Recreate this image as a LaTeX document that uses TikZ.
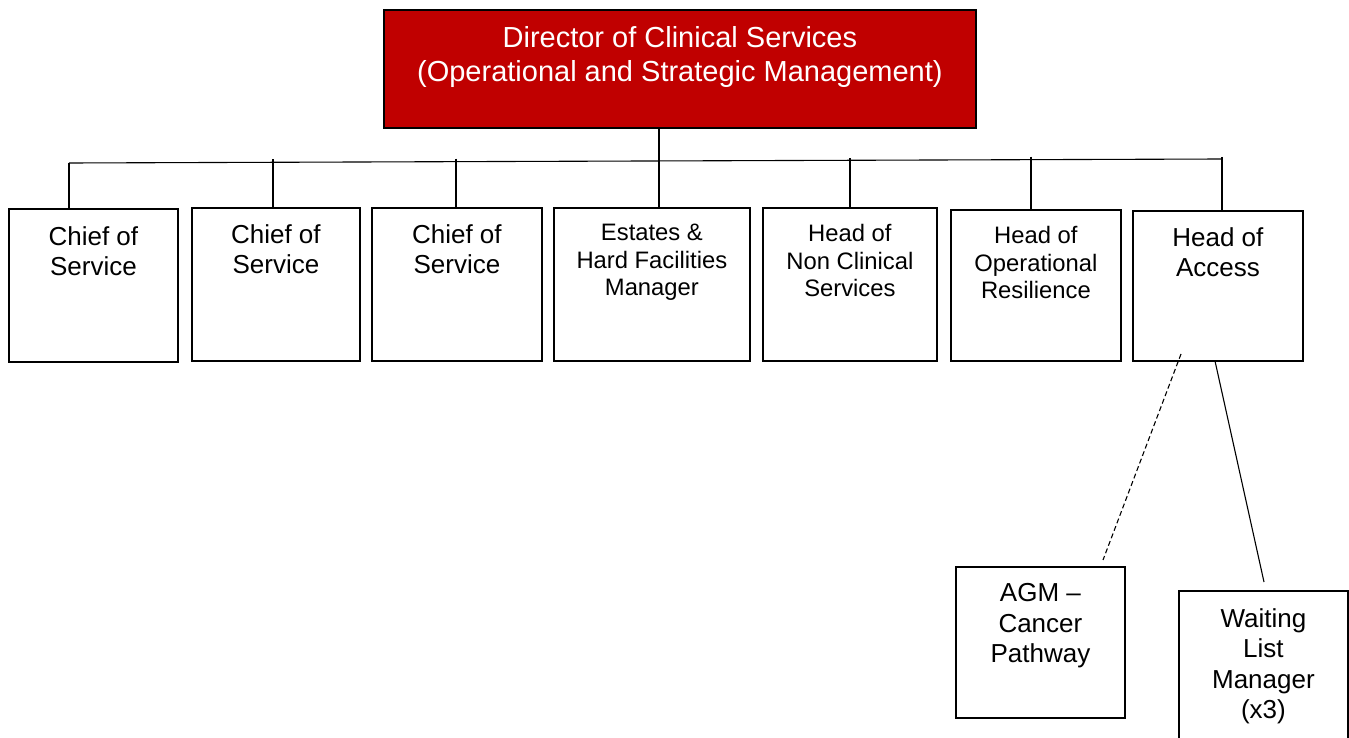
\documentclass[tikz,border=0pt]{standalone}
\usepackage{fontspec}
\setmainfont{Liberation Sans}
\definecolor{dirred}{HTML}{C00000}
\begin{document}
\begin{tikzpicture}[x=1pt,y=-1pt,
  box/.style={draw=black, line width=1.8pt, anchor=north west, inner sep=0pt},
  topbox/.style={box, fill=dirred},
  lbl/.style={anchor=north, inner sep=0pt, align=center,
              font=\fontsize{26}{30.5}\selectfont},
  lblsmall/.style={lbl, font=\fontsize{23.8}{27.5}\selectfont},
  lbltop/.style={lbl, text=white, font=\fontsize{29}{34}\selectfont},
  link/.style={draw=black, line width=1.1pt}]
\useasboundingbox (0,0) rectangle (1349,738);
\clip (0,0) rectangle (1349,738);

% director
\node[topbox, minimum width=592, minimum height=118] (dir) at (383,9) {};
\node[lbltop] (dirt) at ([yshift=-17.7]dir.north) {Director of Clinical Services\\(Operational and Strategic Management)};

% direct reports
\node[box, minimum width=169, minimum height=153] (c1) at (8,208) {};
\node[box, minimum width=168, minimum height=153] (c2) at (191,207) {};
\node[box, minimum width=170, minimum height=153] (c3) at (371,207) {};
\node[box, minimum width=196, minimum height=153] (est) at (553,207) {};
\node[box, minimum width=174, minimum height=153] (ncs) at (762,207) {};
\node[box, minimum width=170, minimum height=151] (opr) at (950,209) {};
\node[box, minimum width=170, minimum height=150] (acc) at (1132,210) {};

\node[lbl] (c1t) at ([yshift=-18.4]c1.north) {Chief of\\Service};
\node[lbl] (c2t) at ([yshift=-17.4]c2.north) {Chief of\\Service};
\node[lbl] (c3t) at ([yshift=-17.4]c3.north) {Chief of\\Service};
\node[lblsmall] (estt) at ([yshift=-17.2]est.north) {Estates \&\\Hard Facilities\\Manager};
\node[lblsmall] (ncst) at ([yshift=-17.2]ncs.north) {Head of\\Non Clinical\\Services};
\node[lblsmall] (oprt) at ([yshift=-17.2]opr.north) {Head of\\Operational\\Resilience};
\node[lbl] (acct) at ([yshift=-17.4]acc.north) {Head of\\Access};

% second level under Head of Access
\node[box, minimum width=169, minimum height=151] (agm) at (955,566) {};
\node[box, minimum width=169, minimum height=170] (wlm) at (1178,590) {};
\node[lbl] (agmt) at ([yshift=-17.4]agm.north) {AGM --\\Cancer\\Pathway};
\node[lbl] (wlmt) at ([yshift=-18.4]wlm.north) {Waiting\\List\\Manager\\(x3)};

% bus line and drops
\coordinate (b1) at (69,163);
\coordinate (b2) at (273,162.3);
\coordinate (b3) at (456,161.7);
\coordinate (b4) at (659,161);
\coordinate (b5) at (850,160.3);
\coordinate (b6) at (1031,159.7);
\coordinate (b7) at (1222,159);
\draw[link] (b1) -- (b7);
\draw[link] (b4 |- dir.south) -- (b4);
\draw[link] (b1) -- (b1 |- c1.north);
\draw[link] ([yshift=3]b2) -- (b2 |- c2.north);
\draw[link] ([yshift=3]b3) -- (b3 |- c3.north);
\draw[link] (b4) -- (b4 |- est.north);
\draw[link] ([yshift=2]b5) -- (b5 |- ncs.north);
\draw[link] ([yshift=3]b6) -- (b6 |- opr.north);
\draw[link] ([yshift=2]b7) -- (b7 |- acc.north);

% links to second level
\coordinate (dA) at (1181,354);
\coordinate (dB) at (1103,560);
\coordinate (sA) at (1215,361);
\coordinate (sB) at (1264,582);
\draw[link, dashed, dash pattern=on 5pt off 3pt] (dA) -- (dB);
\draw[link] (sA) -- (sB);
\end{tikzpicture}
\end{document}
